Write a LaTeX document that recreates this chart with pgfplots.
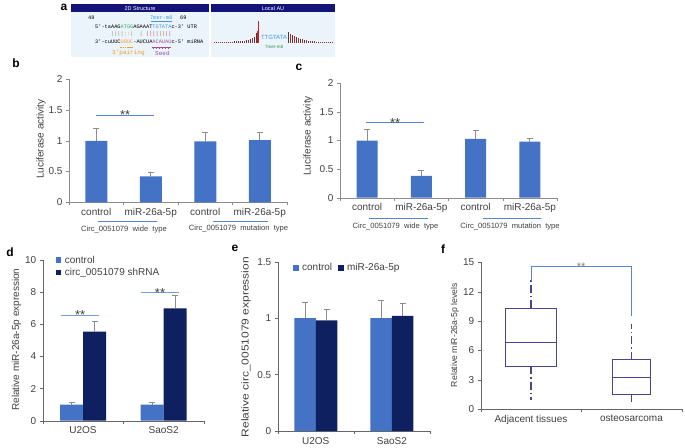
\documentclass[border=0pt]{standalone}
\usepackage{fontspec}
\setmainfont{Liberation Sans}
\setmonofont{Liberation Mono}
\usepackage{pgfplots}
\pgfplotsset{compat=1.18}
\usepgfplotslibrary{statistics}

\definecolor{barblue}{HTML}{4472C4}
\definecolor{navy}{HTML}{0E2060}
\definecolor{sigblue}{HTML}{5B84CF}
\definecolor{axgray}{HTML}{8C8C8C}
\definecolor{txtgray}{HTML}{404040}
\definecolor{hdr}{HTML}{141478}
\definecolor{paleblue}{HTML}{EBF3FB}
\definecolor{sgreen}{HTML}{33B050}
\definecolor{sorange}{HTML}{F39C2B}
\definecolor{sblue}{HTML}{3D9BE0}
\definecolor{spurple}{HTML}{A0509B}
\definecolor{pipe}{HTML}{9A8A80}
\definecolor{seedpipe}{HTML}{B06050}
\definecolor{aured}{HTML}{D02020}
\definecolor{boxnavy}{HTML}{46468A}

\newcommand\sz[1]{\fontsize{#1}{#1}\selectfont}
\newcommand\ph{\hphantom{0}}

\pgfplotsset{
  panel/.style={
    scale only axis, axis lines*=left, axis line style={axgray},
    tick align=outside, major tick length=3pt, tick style={axgray},
    ticklabel style={font=\sz{10}, text=txtgray},
    label style={font=\sz{10}, text=txtgray},
    /pgf/number format/assume math mode=true,
    ymin=0, clip=false, anchor=south west,
    extra x tick style={major tick length=0pt},
    xticklabel style={yshift=-2.5pt},
  },
  errs/.style={error bars/.cd, y dir=plus, y explicit,
    error bar style={axgray, line width=0.8pt},
    error mark options={rotate=90, axgray, mark size=3pt, line width=0.8pt}},
}

\begin{document}
\begin{tikzpicture}
\path[use as bounding box] (0pt,0pt) rectangle (685pt,-447pt);

% ---------- panel a ----------
\node[font=\bfseries\sz{12}] at (64pt,-7pt) {a};
\fill[hdr] (71pt,-4pt) rectangle (209.3pt,-12.3pt);
\fill[paleblue] (71pt,-12.3pt) rectangle (209.3pt,-57.3pt);
\node[text=white, font=\sz{5.5}] at (140pt,-8.2pt) {2D Structure};
\fill[hdr] (211pt,-4pt) rectangle (335pt,-12.3pt);
\fill[paleblue] (211pt,-12.3pt) rectangle (335pt,-57.3pt);
\node[text=white, font=\sz{5.5}] at (273pt,-8.2pt) {Local AU};

\begin{scope}[every node/.style={inner sep=0pt, anchor=west, font=\ttfamily\sz{5.3}}]
\node at (88pt,-17.5pt) {48};
\node[text=sblue] at (150pt,-17.5pt) {7mer-m8};
\node at (180pt,-17.5pt) {69};
\node at (95pt,-26.7pt) {5'-taAAG{\color{sgreen}ATGG}AGAAAT{\color{sblue}TGTATA}c-3'\ph UTR};
\node at (95pt,-34pt) {\ph\ph\ph\ph\ph{\color{pipe}||||}{\color{sorange}::}{\color{pipe}|}\ph\ph{\color{pipe}|}\ph{\color{seedpipe}||||||||}};
\node at (95pt,-41.7pt) {3'-cuUUC{\color{sorange}UGUC}-AUCUA{\color{spurple}ACAUAU}c-5'\ph miRNA};
\node[text=sorange, font=\ttfamily\sz{6}] at (112pt,-53.3pt) {3'pairing};
\node[text=spurple, font=\ttfamily\sz{6}] at (155pt,-53.3pt) {Seed};
\end{scope}
\draw[sblue, line width=0.5pt] (151pt,-21.5pt) -- (172pt,-21.5pt);
\draw[sorange, line width=1.2pt, dash pattern=on 1.6pt off 0.6pt] (120.4pt,-47.8pt) -- (133pt,-47.8pt);
\draw[spurple, line width=0.4pt] (152pt,-47pt) -- (171pt,-47pt);
\draw[spurple, line width=1pt, dash pattern=on 0.6pt off 2.5pt] (152.5pt,-48.2pt) -- (171pt,-48.2pt);

\begin{axis}[at={(214pt,-42.7pt)}, anchor=south west, scale only axis,
  width=119pt, height=22pt, xmin=0, xmax=119, ymin=0, ymax=22,
  axis lines=none, clip=false]
\addplot[ycomb, aured, line width=0.7pt, mark=none] coordinates {
 (0,0.8) (4,0.8) (6,0.9) (10,0.9) (12,1.0) (16,1.1) (18,1.2) (22,1.4) (26,1.7)
 (30,2.2) (34,3.0) (38,4.5) (43,12) (44,22)
 (76,9) (80,6.5) (84,4.8) (88,3.4) (92,2.5) (96,1.8) (100,1.4) (102,1.2)
 (106,1.0) (108,0.9) (112,0.8) (114,0.8) (118,0.7)};
\addplot[ycomb, black!75, line width=0.7pt, mark=none] coordinates {
 (2,0.9) (8,1.0) (14,1.1) (20,1.3) (24,1.5) (28,1.9) (32,2.6) (36,3.6)
 (40,6.0) (42,9.5)
 (74,10.3) (78,7.5) (82,5.5) (86,4.0) (90,2.9) (94,2.1) (98,1.6) (104,1.1)
 (110,0.9) (116,0.8)};
\end{axis}
\node[text=sblue, font=\sz{6}] at (274pt,-37.7pt) {TTGTATA};
\node[text=sgreen!80!black, font=\sz{4.5}] at (274pt,-46.7pt) {7mer-m8};

% ---------- panel b ----------
\node[font=\bfseries\sz{12}] at (16pt,-63pt) {b};
\begin{axis}[panel, at={(69pt,-202.3pt)},
  width=218pt, height=123pt,
  xmin=-0.5, xmax=3.5, ymax=2, ytick={0,0.5,...,2},
  xtick={-0.5,0.5,1.5,2.5,3.5}, xticklabels={},
  extra x ticks={0,1,2,3},
  extra x tick labels={control,miR-26a-5p,control,miR-26a-5p},
  ylabel={Luciferase activity},
  ylabel style={at={(axis description cs:-0.128,0.515)}, anchor=center},
  ybar, bar width=22pt]
\addplot[fill=barblue, draw=none, errs] coordinates {
  (0,1.00) +- (0,0.20) (1,0.42) +- (0,0.06) (2,0.99) +- (0,0.15) (3,1.01) +- (0,0.13)};
\draw[sigblue, line width=0.8pt] (axis cs:0,1.42) -- (axis cs:1.06,1.42);
\node[anchor=base, yshift=-5pt, font=\sz{13}, text=txtgray] at (axis cs:0.53,1.42) {**};
\end{axis}
\draw[sigblue, line width=0.6pt] (98pt,-221pt) -- (157pt,-221pt);
\draw[sigblue, line width=0.6pt] (213pt,-221pt) -- (268pt,-221pt);
\node[font=\sz{7.6}, text=txtgray] at (124pt,-229.5pt) {Circ\_0051079\ \ wide\ \ type};
\node[font=\sz{7.6}, text=txtgray] at (238.5pt,-228.5pt) {Circ\_0051079\ \ mutation\ \ type};

% ---------- panel c ----------
\node[font=\bfseries\sz{12}] at (299pt,-67pt) {c};
\begin{axis}[panel, at={(340pt,-197.7pt)},
  width=217pt, height=114.4pt,
  xmin=-0.5, xmax=3.5, ymax=2, ytick={0,0.5,...,2},
  xtick={-0.5,0.5,1.5,2.5,3.5}, xticklabels={},
  extra x ticks={0,1,2,3},
  extra x tick labels={control,miR-26a-5p,control,miR-26a-5p},
  ylabel={Luciferase activity},
  ylabel style={at={(axis description cs:-0.147,0.54)}, anchor=center},
  ybar, bar width=21pt]
\addplot[fill=barblue, draw=none, errs] coordinates {
  (0,1.00) +- (0,0.20) (1,0.38) +- (0,0.10) (2,1.03) +- (0,0.14) (3,0.98) +- (0,0.06)};
\draw[sigblue, line width=0.8pt] (axis cs:-0.02,1.32) -- (axis cs:1.05,1.32);
\node[anchor=base, yshift=-5pt, font=\sz{13}, text=txtgray] at (axis cs:0.515,1.32) {**};
\end{axis}
\draw[sigblue, line width=0.6pt] (369pt,-218pt) -- (428pt,-218pt);
\draw[sigblue, line width=0.6pt] (483pt,-218pt) -- (541pt,-218pt);
\node[font=\sz{7.6}, text=txtgray] at (395.5pt,-227pt) {Circ\_0051079\ \ wide\ \ type};
\node[font=\sz{7.6}, text=txtgray] at (510pt,-227pt) {Circ\_0051079\ \ mutation\ \ type};

% ---------- panel d ----------
\node[font=\bfseries\sz{12}] at (10pt,-252pt) {d};
\begin{axis}[panel, at={(42.7pt,-420.7pt)},
  width=161.3pt, height=160.7pt,
  xmin=-0.5, xmax=1.5, ymax=10, ytick={0,2,...,10},
  axis line style={black!60}, tick style={black!60},
  xtick={-0.5,0.5,1.5}, xticklabels={},
  extra x ticks={0,1}, extra x tick labels={U2OS,SaoS2},
  ylabel={Relative miR-26a-5p expression},
  ylabel style={at={(axis description cs:-0.162,0.505)}, anchor=center},
  ybar=0pt, bar width=23pt,
  legend image code/.code={\fill[#1] (0pt,-2.6pt) rectangle (5.5pt,2.9pt);},
  legend style={at={(axis description cs:0.08,1.04)}, anchor=north west,
    draw=none, fill=none, font=\sz{10}, text=txtgray, inner sep=0pt,
    row sep=0pt, /tikz/every odd column/.append style={column sep=1.5pt}},
  legend cell align=left]
\addplot[fill=barblue, draw=none, errs] coordinates {
  (0,1.00) +- (0,0.12) (1,1.00) +- (0,0.12)};
\addplot[fill=navy, draw=none, errs] coordinates {
  (0,5.54) +- (0,0.62) (1,6.99) +- (0,0.80)};
\legend{control, circ\_0051079 shRNA}
\draw[sigblue!80, line width=0.8pt] (axis cs:-0.27,6.58) -- (axis cs:0.2,6.58);
\node[anchor=base, yshift=-5pt, font=\sz{13}, text=txtgray] at (axis cs:-0.035,6.58) {**};
\draw[sigblue!80, line width=0.8pt] (axis cs:0.72,7.97) -- (axis cs:1.19,7.97);
\node[anchor=base, yshift=-5pt, font=\sz{13}, text=txtgray] at (axis cs:0.955,7.97) {**};
\end{axis}

% ---------- panel e ----------
\node[font=\bfseries\sz{12}] at (235pt,-248pt) {e};
\begin{axis}[panel, at={(277.7pt,-431pt)},
  width=152.3pt, height=169.3pt,
  xmin=-0.5, xmax=1.5, ymax=1.5, ytick={0,0.5,1,1.5},
  axis line style={black!60}, tick style={black!60},
  xtick={-0.5,0.5,1.5}, xticklabels={},
  extra x ticks={0,1}, extra x tick labels={U2OS,SaoS2},
  ylabel={\scalebox{1.2}[1]{Relative circ\_0051079 expression}},
  ylabel style={at={(axis description cs:-0.208,0.496)}, anchor=center},
  ybar=0pt, bar width=21.5pt,
  legend image code/.code={\fill[#1] (0pt,-2.6pt) rectangle (5.5pt,2.9pt);},
  legend style={at={(axis description cs:0.1,0.963)}, anchor=west,
    draw=none, fill=none, font=\sz{10}, text=txtgray, inner sep=0pt,
    legend columns=-1, /tikz/every odd column/.append style={column sep=1.5pt},
    /tikz/every even column/.append style={column sep=4pt}}]
\addplot[fill=barblue, draw=none, errs] coordinates {
  (0,1.00) +- (0,0.14) (1,1.00) +- (0,0.16)};
\addplot[fill=navy, draw=none, errs] coordinates {
  (0,0.98) +- (0,0.095) (1,1.02) +- (0,0.11)};
\legend{control, miR-26a-5p}
\end{axis}

% ---------- panel f ----------
\node[font=\bfseries\sz{12}] at (443pt,-249pt) {f};
\begin{axis}[panel, at={(480.7pt,-409.3pt)},
  width=201pt, height=147pt,
  xmin=-0.5, xmax=1.5, ymax=15, ytick={0,3,...,15},
  axis line style={black!60}, tick style={black!60},
  xtick={-0.5,0.5,1.5}, xticklabels={},
  extra x ticks={0,1}, extra x tick labels={Adjacent tissues,osteosarcoma},
  ylabel={Relative miR-26a-5p levels},
  ylabel style={at={(axis description cs:-0.128,0.505)}, anchor=center, font=\sz{8.7}},
  boxplot/draw direction=y,
  boxplot/every whisker/.style={line width=1.6pt,
    dash pattern=on 8pt off 3pt on 1.5pt off 3pt},
  boxplot/every box/.style={line width=0.9pt},
  boxplot/every median/.style={line width=0.9pt}]
\addplot[boxnavy, boxplot prepared={draw position=0, box extend=0.51,
  whisker extend=0, median=6.85, lower quartile=4.4, upper quartile=10.3,
  lower whisker=1.0, upper whisker=13.4}] coordinates {};
\addplot[boxnavy, boxplot prepared={draw position=1, box extend=0.38,
  whisker extend=0, median=3.25, lower quartile=1.55, upper quartile=5.05,
  lower whisker=0.5, upper whisker=8.7}] coordinates {};
\draw[sigblue, line width=0.8pt] (axis cs:0,13.1) -- (axis cs:0,14.6)
  -- (axis cs:1,14.6) -- (axis cs:1,9.5);
\node[anchor=base, yshift=-4pt, font=\sz{11}, text=black!50] at (axis cs:0.5,14.6) {**};
\end{axis}
\end{tikzpicture}
\end{document}
